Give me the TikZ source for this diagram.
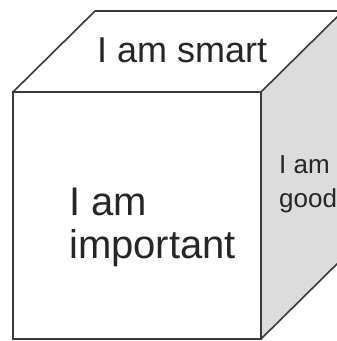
\documentclass[tikz,border=0pt]{standalone}
\usepackage{fontspec}
\setmainfont{Liberation Sans}
\definecolor{edge}{HTML}{3A3A3A}
\definecolor{side}{HTML}{DCDCDC}
\begin{document}
\begin{tikzpicture}[x=1pt,y=-1pt,
  cubeline/.style={draw=edge,line width=1.6pt,line join=miter},
  lbl/.style={inner sep=0pt,anchor=base west,align=left,text=black!85}]
\useasboundingbox (0,0) rectangle (337,341);
\begin{scope}
\clip (0,0) rectangle (337,341);
\coordinate (ftl) at (13,92);
\coordinate (ftr) at (261,92);
\coordinate (fbr) at (261,339);
\coordinate (fbl) at (13,339);
\coordinate (btl) at (95,11);
\coordinate (btr) at (343,11);
\coordinate (bbr) at (343,258);
\fill[white] (ftl) -- (ftr) -- (fbr) -- (fbl) -- cycle;
\fill[white] (ftl) -- (btl) -- (btr) -- (ftr) -- cycle;
\fill[side] (ftr) -- (btr) -- (bbr) -- (fbr) -- cycle;
\draw[cubeline] (ftl) -- (ftr) -- (fbr) -- (fbl) -- cycle;
\draw[cubeline] (ftl) -- (btl) -- (btr) -- (ftr);
\draw[cubeline] (btr) -- (bbr) -- (fbr);
\end{scope}
\node[lbl,font=\fontsize{36}{40}\selectfont] (smart) at (97,62) {I am smart};
\node[lbl,font=\fontsize{40}{43}\selectfont] (important) at (69,258) {I am\\important};
\node[lbl,font=\fontsize{26}{34}\selectfont] (good) at (279,207) {I am\\good};
\end{tikzpicture}
\end{document}
